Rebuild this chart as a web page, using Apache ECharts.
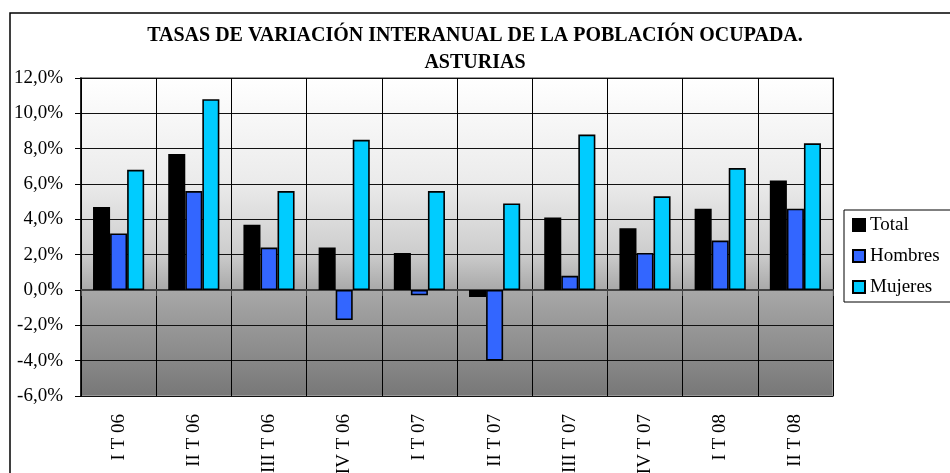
<!DOCTYPE html>
<html>
<head>
<meta charset="utf-8">
<script src="https://cdn.jsdelivr.net/npm/echarts@6/dist/echarts.min.js"></script>
<style>
  html, body { margin: 0; padding: 0; background: #fff; }
  #main { width: 950px; height: 473px; }
</style>
</head>
<body>
<div id="main"></div>
<script>
// datos
const categories = ['I T 06', 'II T 06', 'III T 06', 'IV T 06', 'I T 07', 'II T 07', 'III T 07', 'IV T 07', 'I T 08', 'II T 08'];
const total = [4.7, 7.7, 3.7, 2.4, 2.1, -0.4, 4.1, 3.5, 4.6, 6.2];
const hombres = [3.2, 5.6, 2.4, -1.7, -0.3, -4.0, 0.8, 2.1, 2.8, 4.6];
const mujeres = [6.8, 10.8, 5.6, 8.5, 5.6, 4.9, 8.8, 5.3, 6.9, 8.3];
const seriesNames = ['Total', 'Hombres', 'Mujeres'];

const serif = '"Liberation Serif", "DejaVu Serif", serif';

function chart() {
    let myChart = echarts.init(document.querySelector('#main'));
    let barStyle = function (color) {
        return { color: color, borderColor: '#000', borderWidth: 1.6 };
    };
    let option = {
        animation: false,
        backgroundColor: '#fff',
        title: {
            text: 'TASAS DE VARIACIÓN INTERANUAL DE LA POBLACIÓN OCUPADA.\nASTURIAS',
            left: 'center',
            top: 17,
            textStyle: {
                fontFamily: serif,
                fontWeight: 'bold',
                fontSize: 20,
                lineHeight: 27,
                color: '#000'
            }
        },
        graphic: [
            {
                type: 'rect',
                shape: { x: 10, y: 13, width: 960, height: 480 },
                style: { fill: 'none', stroke: '#000', lineWidth: 1.5 },
                z: -1
            },
            {
                type: 'rect',
                shape: { x: 844, y: 210, width: 150, height: 92 },
                style: { fill: '#fff', stroke: '#000', lineWidth: 1 },
                z: -1
            }
        ],
        legend: {
            orient: 'vertical',
            left: 852,
            top: 215,
            padding: 0,
            itemWidth: 12,
            itemHeight: 12,
            itemGap: 11,
            icon: 'rect',
            data: seriesNames,
            textStyle: { fontFamily: serif, fontSize: 19, lineHeight: 20, color: '#000' }
        },
        grid: {
            left: 81,
            right: 117,
            top: 78,
            bottom: 77,
            outerBoundsMode: 'none',
            containLabel: false,
            show: true,
            borderColor: '#999',
            borderWidth: 2,
            backgroundColor: new echarts.graphic.LinearGradient(0, 0, 0, 1, [
                { offset: 0, color: '#ffffff' },
                { offset: 0.33, color: '#ebebeb' },
                { offset: 0.55, color: '#cdcdcd' },
                { offset: 0.667, color: '#a8a8a8' },
                { offset: 1, color: '#777777' }
            ])
        },
        xAxis: [
            {
                type: 'category',
                data: categories,
                position: 'bottom',
                axisLine: { show: false, onZero: false },
                axisTick: { show: false },
                splitLine: { show: true, interval: 0, lineStyle: { color: '#000', width: 1 } },
                axisLabel: {
                    interval: 0,
                    rotate: 90,
                    margin: 18,
                    fontFamily: serif,
                    fontSize: 19,
                    color: '#000'
                }
            },
            {
                // eje en el cero
                type: 'category',
                data: categories,
                position: 'top',
                axisLine: { show: true, onZero: true, lineStyle: { color: '#444', width: 2 } },
                axisTick: { show: true, inside: true, length: 6, lineStyle: { color: '#444' } },
                axisLabel: { show: false },
                splitLine: { show: false }
            }
        ],
        yAxis: {
            type: 'value',
            min: -6,
            max: 12,
            interval: 2,
            axisLine: { show: true, onZero: false, lineStyle: { color: '#000', width: 1.5 } },
            axisTick: { show: true, length: 6, lineStyle: { color: '#000' } },
            splitLine: { show: true, lineStyle: { color: '#111', width: 1 } },
            axisLabel: {
                margin: 18,
                fontFamily: serif,
                fontSize: 19,
                color: '#000',
                formatter: function (v) { return v.toFixed(1).replace('.', ',') + '%'; }
            }
        },
        series: [
            { name: seriesNames[0], type: 'bar', data: total, barGap: '0%', barCategoryGap: '32%', itemStyle: barStyle('#000000') },
            { name: seriesNames[1], type: 'bar', data: hombres, barGap: '0%', barCategoryGap: '32%', itemStyle: barStyle('#3366ff') },
            { name: seriesNames[2], type: 'bar', data: mujeres, barGap: '0%', barCategoryGap: '32%', itemStyle: barStyle('#00ccff') }
        ]
    };
    myChart.setOption(option);
}
chart();
</script>
</body>
</html>
